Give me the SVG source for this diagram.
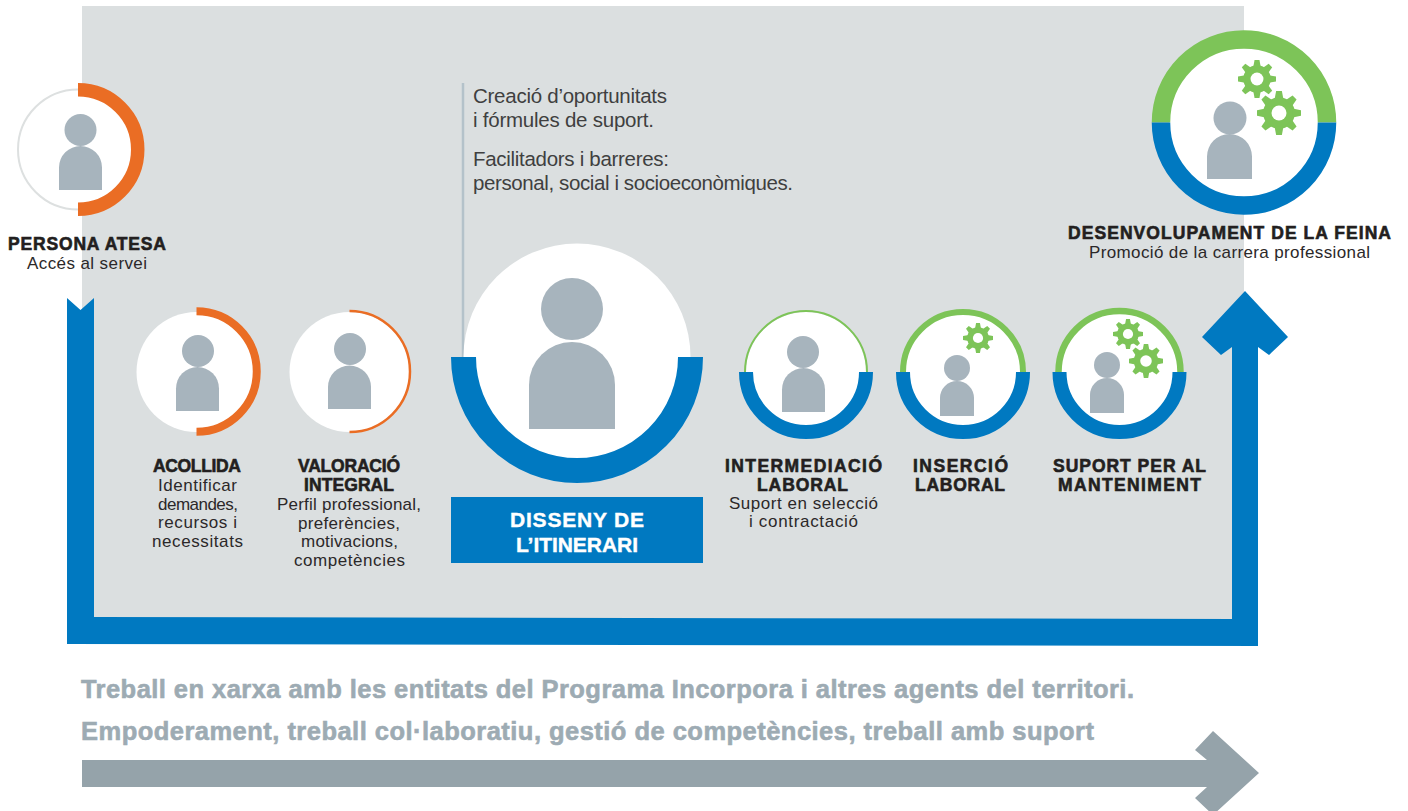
<svg xmlns="http://www.w3.org/2000/svg" width="1408" height="811" viewBox="0 0 1408 811">
<style>
text{font-family:"Liberation Sans",Arial,sans-serif;fill:#2b2829}
.h{font-weight:700;font-size:17.5px;stroke:#231f20;stroke-width:.6px;fill:#231f20}
.t{font-size:17px}
.i{font-size:20.5px;fill:#3f3f40}
.w{font-weight:700;font-size:21px;fill:#fff;stroke:#fff;stroke-width:.4px}
.b{font-weight:700;font-size:25.5px;fill:#9dabb3;stroke:#9dabb3;stroke-width:.6px}
.disc{fill:#fff}
.o{fill:none;stroke:#ea6d24}
.g{fill:none;stroke:#7dc458}
.bl{fill:none;stroke:#0079c1}
.p{fill:#a7b4bd}
</style>
<defs>
<g id="gear">
<circle r="72" fill="#7dc458"/>
<g id="teeth" fill="#7dc458">
<polygon id="t1" points="-20,-62 -13,-100 13,-100 20,-62"/>
<use href="#t1" transform="rotate(45)"/>
<use href="#t1" transform="rotate(90)"/>
<use href="#t1" transform="rotate(135)"/>
<use href="#t1" transform="rotate(180)"/>
<use href="#t1" transform="rotate(225)"/>
<use href="#t1" transform="rotate(270)"/>
<use href="#t1" transform="rotate(315)"/>
</g>
<circle r="34" fill="#fff"/>
</g>
</defs>
<rect id="background" x="82" y="6" width="1162" height="625" fill="#dbdfe0"/>
<polygon points="60,297 82,297 82,312 60,312" fill="#fff"/>
<g id="connectors">
<line x1="463" y1="83" x2="463" y2="357" stroke="#b4c2ca" stroke-width="2.5"/>
<path d="M67,298 L80.5,310 L94,298 V617 L1232,619 V347 L1221,355 L1202,337 L1245,291 L1288,337 L1269,355 L1258,347 V646 L67,644 Z" fill="#0079c1"/>
<path d="M82,760 H1207 L1195,750 L1213,731 L1259,773 L1213,815 L1195,798 L1207,787 H82 Z" fill="#95a3aa"/>
</g>
<g id="persona-atesa">
<circle cx="78" cy="149.5" r="60" fill="#fff" stroke="#dde0e0" stroke-width="2"/>
<path class="o" stroke-width="13.5" d="M78,89.75 A59.75,59.75 0 0 1 78,209.25"/>
<circle class="p" cx="80.5" cy="130" r="16"/>
<path class="p" d="M59,190 V167.5 A21.5,21.5 0 0 1 102,167.5 V190 Z"/>
<text class="h" x="8" y="250" textLength="158">PERSONA ATESA</text>
<text class="t" x="27" y="269" textLength="120">Accés al servei</text>
</g>
<g id="acollida">
<circle class="disc" cx="196.5" cy="372" r="60"/>
<path class="o" stroke-width="8" d="M196.5,311.25 A60.25,60.25 0 0 1 196.5,431.75"/>
<circle class="p" cx="198" cy="351" r="16"/>
<path class="p" d="M176,411 V388.5 A21.5,21.5 0 0 1 219,388.5 V411 Z"/>
<text class="h" x="153" y="472" textLength="88">ACOLLIDA</text>
<text class="t" x="158" y="491" textLength="79">Identificar</text>
<text class="t" x="158" y="510" textLength="80">demandes,</text>
<text class="t" x="158" y="528" textLength="79">recursos i</text>
<text class="t" x="152" y="547" textLength="91">necessitats</text>
</g>
<g id="valoracio-integral">
<circle class="disc" cx="349.5" cy="372" r="60"/>
<path class="o" stroke-width="2.5" d="M349.5,311 A60.5,60.5 0 0 1 349.5,432"/>
<circle class="p" cx="350" cy="349" r="16"/>
<path class="p" d="M328,409 V387 A21.5,21.5 0 0 1 371,387 V409 Z"/>
<text class="h" x="298" y="472" textLength="102">VALORACIÓ</text>
<text class="h" x="304" y="491" textLength="90">INTEGRAL</text>
<text class="t" x="277" y="510" textLength="144">Perfil professional,</text>
<text class="t" x="298" y="529" textLength="102">preferències,</text>
<text class="t" x="301" y="547" textLength="97">motivacions,</text>
<text class="t" x="294" y="566" textLength="111">competències</text>
</g>
<g id="disseny-itinerari">
<circle class="disc" cx="577" cy="357" r="113.5"/>
<path class="bl" stroke-width="25" d="M463.5,357 A113.5,113.5 0 0 0 690.5,357"/>
<circle class="p" cx="572" cy="309" r="31"/>
<path class="p" d="M529,429 V385 A43,43 0 0 1 615,385 V429 Z"/>
<rect x="451" y="497" width="252" height="66" fill="#0079c1"/>
<text class="w" x="510" y="527" textLength="134">DISSENY DE</text>
<text class="w" x="516" y="552" textLength="122">L’ITINERARI</text>
</g>
<g id="creacio-text">
<text class="i" x="473" y="103" textLength="194">Creació d’oportunitats</text>
<text class="i" x="473" y="127" textLength="181">i fórmules de suport.</text>
<text class="i" x="473" y="166" textLength="196">Facilitadors i barreres:</text>
<text class="i" x="473" y="190" textLength="320">personal, social i socioeconòmiques.</text>
</g>
<g id="intermediacio-laboral">
<circle class="disc" cx="806" cy="372" r="60"/>
<path class="g" stroke-width="2" d="M745,372 A61,61 0 0 1 867,372"/>
<path class="bl" stroke-width="14" d="M746,372 A60,60 0 0 0 866,372"/>
<circle class="p" cx="803" cy="352" r="16"/>
<path class="p" d="M782,412 V389.5 A21.5,21.5 0 0 1 825,389.5 V412 Z"/>
<text class="h" x="725" y="472" textLength="157">INTERMEDIACIÓ</text>
<text class="h" x="757" y="491" textLength="91">LABORAL</text>
<text class="t" x="729" y="509" textLength="149">Suport en selecció</text>
<text class="t" x="749" y="527" textLength="109">i contractació</text>
</g>
<g id="insercio-laboral">
<circle class="disc" cx="963" cy="372" r="60"/>
<path class="g" stroke-width="6" d="M903,372 A60,60 0 0 1 1023,372"/>
<path class="bl" stroke-width="14" d="M903,372 A60,60 0 0 0 1023,372"/>
<use href="#gear" transform="translate(978,338) scale(.15)"/>
<circle class="p" cx="957" cy="368" r="13"/>
<path class="p" d="M940,416 V398 A17,17 0 0 1 974,398 V416 Z"/>
<text class="h" x="913" y="472" textLength="95">INSERCIÓ</text>
<text class="h" x="915" y="491" textLength="90">LABORAL</text>
</g>
<g id="suport-manteniment">
<circle class="disc" cx="1119.5" cy="372" r="60"/>
<path class="g" stroke-width="6.5" d="M1058.5,372 A61,61 0 0 1 1180.5,372"/>
<path class="bl" stroke-width="14" d="M1059.5,372 A60,60 0 0 0 1179.5,372"/>
<use href="#gear" transform="translate(1128,334) scale(.15)"/>
<use href="#gear" transform="translate(1146,361) scale(.17)"/>
<circle class="p" cx="1107" cy="365" r="13"/>
<path class="p" d="M1090,413 V395 A17,17 0 0 1 1124,395 V413 Z"/>
<text class="h" x="1053" y="472" textLength="153">SUPORT PER AL</text>
<text class="h" x="1058" y="491" textLength="143">MANTENIMENT</text>
</g>
<g id="desenvolupament">
<circle class="disc" cx="1244" cy="122.5" r="75"/>
<path class="g" stroke-width="18.5" d="M1161,122.5 A83,83 0 0 1 1327,122.5"/>
<path class="bl" stroke-width="18.5" d="M1161,122.5 A83,83 0 0 0 1327,122.5"/>
<use href="#gear" transform="translate(1257,79) scale(.19)"/>
<use href="#gear" transform="translate(1279,113) scale(.22)"/>
<circle class="p" cx="1230" cy="118" r="16.5"/>
<path class="p" d="M1207,179 V156.5 A22.5,22.5 0 0 1 1252,156.5 V179 Z"/>
<text class="h" x="1068" y="239" textLength="323">DESENVOLUPAMENT DE LA FEINA</text>
<text class="t" x="1089" y="258" textLength="281">Promoció de la carrera professional</text>
</g>
<g id="bottom-text">
<text class="b" x="81" y="698" textLength="1053">Treball en xarxa amb les entitats del Programa Incorpora i altres agents del territori.</text>
<text class="b" x="81" y="740" textLength="1013">Empoderament, treball col·laboratiu, gestió de competències, treball amb suport</text>
</g>
</svg>
